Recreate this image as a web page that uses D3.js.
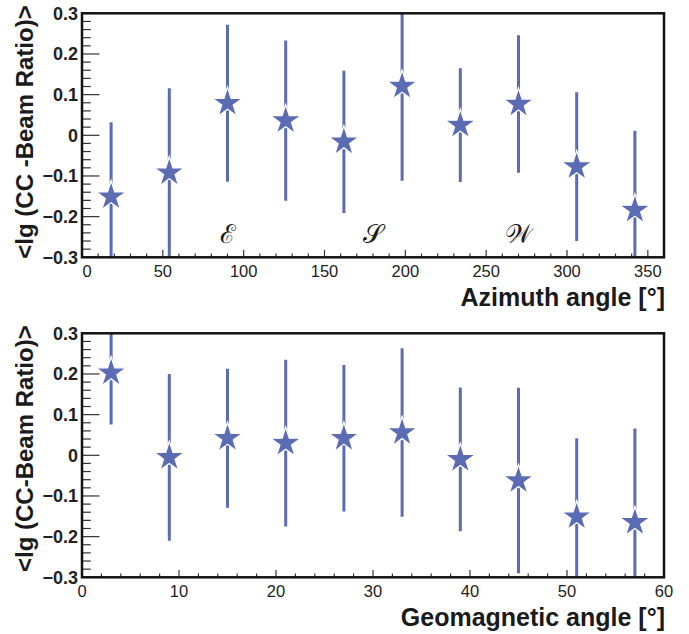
<!DOCTYPE html>
<html>
<head>
<meta charset="utf-8">
<script src="https://cdn.jsdelivr.net/npm/d3@7"></script>
<style>
  body { margin: 0; background: #fff; }
  svg { display: block; }
</style>
</head>
<body>
<svg id="chart" width="689" height="634"></svg>
<script>
// Mean lg(CC / beam) ratio versus shower azimuth (36° bins)
const azimuthAngles = [18, 54, 90, 126, 162, 198, 234, 270, 306, 342];
const azimuthMean   = [-0.151, -0.092, 0.079, 0.036, -0.016, 0.121, 0.025, 0.077, -0.077, -0.184];
const azimuthErr    = [0.183, 0.208, 0.193, 0.197, 0.175, 0.233, 0.140, 0.169, 0.183, 0.195];
const azimuthTicks  = [0, 50, 100, 150, 200, 250, 300, 350];
const compassLabels = ["\u2130", "\uD835\uDCAE", "\uD835\uDCB2"];
const compassAngles = [90, 180, 270];

// Mean lg(CC / beam) ratio versus geomagnetic angle (6° bins)
const geomagAngles = [3, 9, 15, 21, 27, 33, 39, 45, 51, 57];
const geomagMean   = [0.203, -0.005, 0.042, 0.030, 0.042, 0.056, -0.010, -0.062, -0.151, -0.165];
const geomagErr    = [0.127, 0.205, 0.171, 0.205, 0.180, 0.207, 0.177, 0.228, 0.193, 0.231];
const geomagTicks  = [0, 10, 20, 30, 40, 50, 60];

const ratioTicks = [-0.3, -0.2, -0.1, 0, 0.1, 0.2, 0.3];

const svg = d3.select("#chart");
const left = 82, right = 664, plotH = 244;
const markColor = "#5b6bb4";
const sansBold = "'Liberation Sans', Arial, Helvetica, sans-serif";

function drawPanel(cfg) {
  const top = cfg.top, bottom = top + plotH;
  const x = d3.scaleLinear().domain(cfg.xDomain).range([left, right]);
  const y = d3.scaleLinear().domain([-0.3, 0.3]).range([bottom, top]);
  const g = svg.append("g");

  const clipId = "clip-" + cfg.id;
  g.append("clipPath").attr("id", clipId)
    .append("rect").attr("x", left).attr("y", top)
    .attr("width", right - left).attr("height", plotH);

  // y ticks (drawn inward from the left frame)
  const yMinor = d3.range(-15, 16).map(i => i * 0.02);
  g.selectAll(".ymin").data(yMinor).join("line")
    .attr("x1", left).attr("x2", d => left + (Math.abs(Math.round(d * 50)) % 5 === 0 ? 17.5 : 8.8))
    .attr("y1", d => y(d)).attr("y2", d => y(d))
    .attr("stroke", "#333").attr("stroke-width", 1.2);

  // x ticks (drawn upward from the bottom frame)
  const xMinor = d3.range(cfg.xDomain[0], cfg.xDomain[1] + 1e-9, cfg.minorStep);
  g.selectAll(".xmin").data(xMinor).join("line")
    .attr("x1", d => x(d)).attr("x2", d => x(d))
    .attr("y1", bottom)
    .attr("y2", d => bottom - (cfg.ticks.includes(Math.round(d)) ? 7.3 : 3.7))
    .attr("stroke", "#333").attr("stroke-width", 1.2);

  // y tick labels
  g.selectAll(".ylab").data(ratioTicks).join("text")
    .attr("x", 78).attr("y", d => y(d)).attr("dy", "0.36em")
    .attr("text-anchor", "end")
    .attr("font-family", sansBold).attr("font-weight", "bold").attr("font-size", 18)
    .attr("fill", "#222")
    .text(d => d === 0 ? "0" : d3.format(".1f")(d));

  // x tick labels
  g.selectAll(".xlab").data(cfg.ticks).join("text")
    .attr("x", d => x(d) + (d === 0 ? cfg.zeroShift : 0)).attr("y", bottom + 19.5)
    .attr("text-anchor", "middle")
    .attr("font-family", sansBold).attr("font-size", 16.5)
    .attr("fill", "#222")
    .text(d => d);

  // axis titles
  g.append("text")
    .attr("x", 665).attr("y", bottom + 49)
    .attr("text-anchor", "end")
    .attr("font-family", sansBold).attr("font-weight", "bold").attr("font-size", 25)
    .attr("fill", "#1a1a1a")
    .text(cfg.xTitle);
  g.append("text")
    .attr("transform", `translate(33,${top - 8}) rotate(-90)`)
    .attr("text-anchor", "end")
    .attr("font-family", sansBold).attr("font-weight", "bold").attr("font-size", 24)
    .attr("fill", "#1a1a1a")
    .text(cfg.yTitle);

  // optional annotations inside the plot
  if (cfg.notes) {
    g.selectAll(".note").data(cfg.notes.angles).join("text")
      .attr("x", d => x(d)).attr("y", y(-0.265))
      .attr("text-anchor", "middle")
      .attr("font-family", "'DejaVu Serif', 'Liberation Serif', serif")
      .attr("font-size", 26)
      .attr("fill", "#1a1a1a")
      .text((d, i) => cfg.notes.labels[i]);
  }

  const pts = cfg.xs.map((v, i) => ({ x: v, m: cfg.mean[i], e: cfg.err[i] }));

  // error bars
  g.append("g").attr("clip-path", `url(#${clipId})`)
    .selectAll("line").data(pts).join("line")
    .attr("x1", d => x(d.x)).attr("x2", d => x(d.x))
    .attr("y1", d => y(d.m - d.e)).attr("y2", d => y(d.m + d.e))
    .attr("stroke", markColor).attr("stroke-width", 3);

  // star markers
  const R = 16;
  const star = d3.symbol().type(d3.symbolStar).size(R * R / 0.8908130915292852);
  g.selectAll(".star").data(pts).join("path")
    .attr("d", star)
    .attr("transform", d => `translate(${x(d.x)},${y(d.m)})`)
    .attr("fill", markColor).attr("stroke", "#fff").attr("stroke-width", 1.3);

  // frame
  g.append("rect")
    .attr("x", left).attr("y", top).attr("width", right - left).attr("height", plotH)
    .attr("fill", "none").attr("stroke", "#111").attr("stroke-width", 2.5);
}

drawPanel({
  id: "az", top: 13.3, xDomain: [0, 360], ticks: azimuthTicks, minorStep: 10, zeroShift: 5,
  xs: azimuthAngles, mean: azimuthMean, err: azimuthErr,
  xTitle: "Azimuth angle [°]", yTitle: "<lg (CC -Beam Ratio)>",
  notes: { labels: compassLabels, angles: compassAngles }
});

drawPanel({
  id: "gm", top: 333.3, xDomain: [0, 60], ticks: geomagTicks, minorStep: 2, zeroShift: 0,
  xs: geomagAngles, mean: geomagMean, err: geomagErr,
  xTitle: "Geomagnetic angle [°]", yTitle: "<lg (CC-Beam Ratio)>"
});
</script>
</body>
</html>
